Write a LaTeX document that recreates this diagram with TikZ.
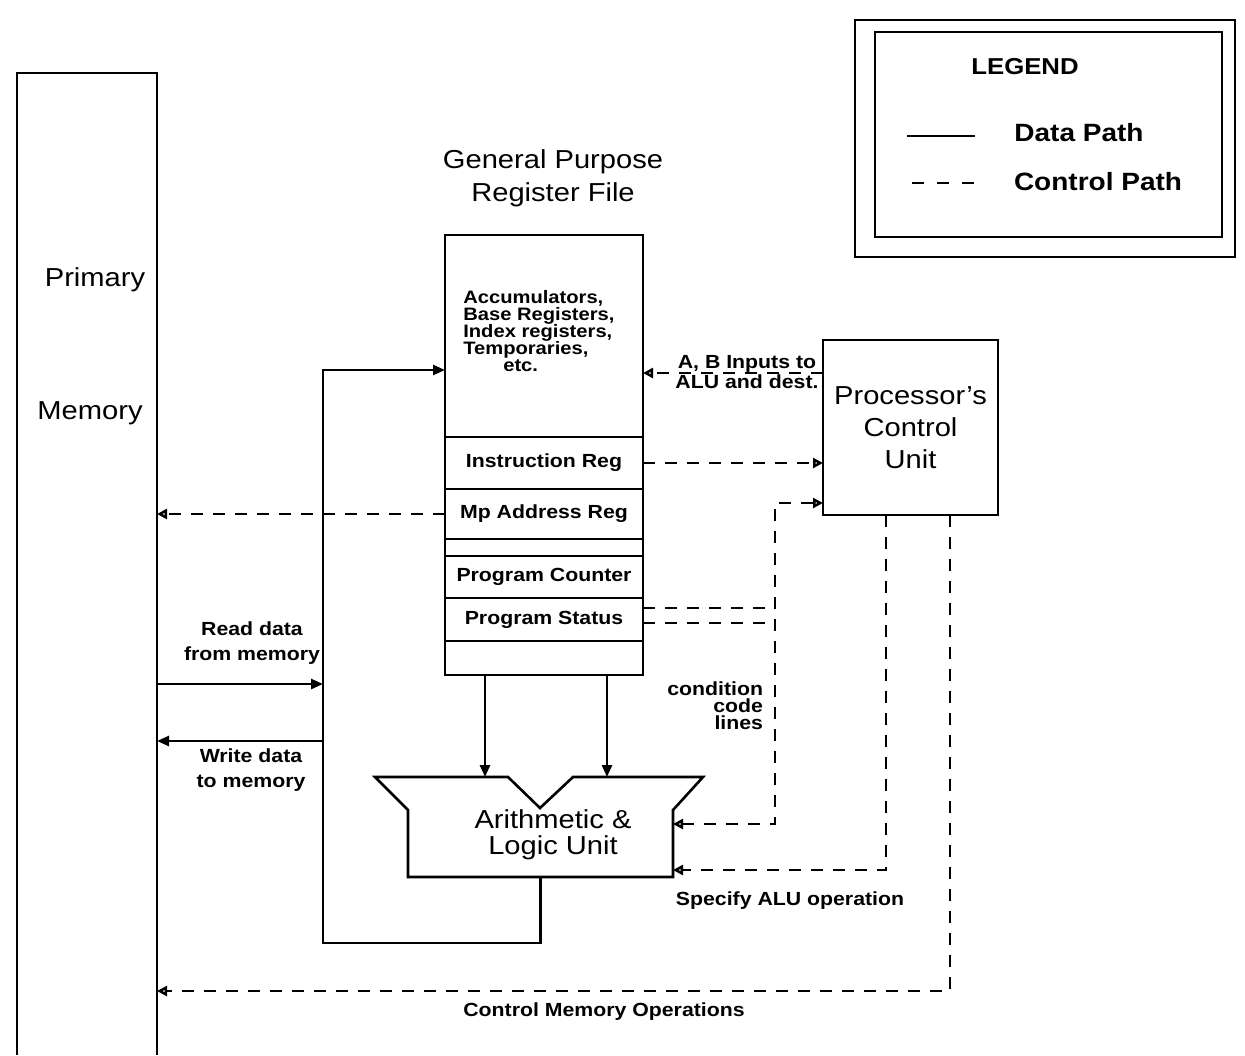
\documentclass[tikz,border=0pt]{standalone}
\usepackage{fontspec}
\setmainfont[FakeStretch=1.12]{Liberation Sans}
\usepackage{tikz}
\usetikzlibrary{arrows.meta,positioning}

\begin{document}
\begin{tikzpicture}[x=0.5pt,y=-0.5pt,line width=1.3pt,
    big/.style={font=\fontsize{13}{16}\selectfont,align=center},
    small/.style={font=\fontsize{9.5}{12.5}\selectfont\bfseries,align=center},
    tight/.style={font=\fontsize{9.5}{8.5}\selectfont\bfseries},
    box/.style={draw,inner sep=0pt,outer sep=0pt},
    reg/.style={box,small,minimum width=99pt,below=0pt of #1},
    data/.style={-{Triangle[length=6pt,width=5pt]}},
    ctrl/.style={dash pattern=on 6pt off 5pt},
    ctrlarr/.style={ctrl,-{Triangle[open,length=5pt,width=5pt]}},
    ctrlboth/.style={ctrl,{Triangle[open,length=5pt,width=5pt]}-{Triangle[open,length=5pt,width=5pt]}}]
  \useasboundingbox (0,0) rectangle (1245,1055);

  \node[box,draw=none,minimum width=70pt,minimum height=491pt] (mem) at (87,564) {};
  \draw (mem.south west) |- (mem.north east) -- (mem.south east);
  \node[big] (prim) at (95,280) {Primary};
  \node[big] (memlbl) at (90,413) {Memory};

  \node[big,font=\fontsize{13}{16.5}\selectfont] (title) at (553,178) {General Purpose\\Register File};
  \node[box,minimum width=99pt,minimum height=101pt] (acc) at (544,336) {};
  \node[reg=acc,minimum height=26pt] (ir) {Instruction Reg};
  \node[reg=ir,minimum height=25pt] (mar) {Mp Address Reg};
  \node[reg=mar,minimum height=8.5pt] (gap) {};
  \node[reg=gap,minimum height=21pt] (pc) {Program Counter};
  \node[reg=pc,minimum height=21.5pt] (ps) {Program Status};
  \node[reg=ps,minimum height=17pt] (bot) {};
  \node[tight,font=\fontsize{9}{8.5}\selectfont\bfseries,align=left,anchor=north west,inner sep=0pt] (acctxt) at (462,289)
    {Accumulators,\\Base Registers,\\Index registers,\\Temporaries,\\\hspace*{20pt}etc.};

  \node[box,draw=none,minimum width=132.5pt,minimum height=33.5pt] (alu) at (540.5,843.5) {};
  \draw (alu.north west) -- ++(-33,-33) -- (508,777) -- (540,808) -- (573,777) -- (703,777)
    -- (alu.north east) |- (alu.south west) -- cycle;
  \node[big,font=\fontsize{13}{13}\selectfont] (alutxt) at (553,835) {Arithmetic \&\\Logic Unit};

  \node[box,big,minimum width=87.5pt,minimum height=87.5pt] (cu) at (910.5,427.5) {Processor's\\Control\\Unit};

  \coordinate (bus) at (323,370);
  \coordinate (rd) at (323,684);
  \coordinate (wr) at (323,741);
  \draw[data] (alu.south) -- ++(0,66) -| (bus) -- (bus -| acc.west);
  \draw[data] (rd -| mem.east) -- (rd);
  \draw[data] (wr) -- (wr -| mem.east);
  \node[small] (rdlbl) at (252,643) {Read data\\from memory};
  \node[small] (wrlbl) at (251,770) {Write data\\to memory};

  \coordinate (inA) at (485,777);
  \coordinate (inB) at (607,777);
  \draw[data] (inA |- bot.south) -- (inA);
  \draw[data] (inB |- bot.south) -- (inB);

  \coordinate (ab) at (823,373);
  \draw[ctrlarr] (ab) -- (ab -| acc.east);
  \node[small,tight] (ablbl) at (747,372) {A, B Inputs to\\ALU and dest.};
  \draw[ctrlarr] (ir.east) -- (ir.east -| cu.west);
  \draw[ctrlarr] (mar.west) -- (mar.west -| mem.east);

  \coordinate (cct) at (775,503);
  \coordinate (ccb) at (775,824);
  \coordinate (ps1) at (775,608);
  \coordinate (ps2) at (775,623);
  \draw[ctrlboth] (ccb -| alu.east) -- (ccb) -- (cct) -- (cct -| cu.west);
  \draw[ctrl] (ps1 -| ps.east) -- (ps1);
  \draw[ctrl] (ps2 -| ps.east) -- (ps2);
  \node[tight,align=right,anchor=east] (cclbl) at (771,706) {condition\\code\\lines};

  \coordinate (spec) at (886,870);
  \draw[ctrlarr] (spec |- cu.south) -- (spec) -- (spec -| alu.east);
  \node[small] (speclbl) at (790,901) {Specify ALU operation};
  \coordinate (cmo) at (950,991);
  \draw[ctrlarr] (cmo |- cu.south) -- (cmo) -- (cmo -| mem.east);
  \node[small] (cmolbl) at (604,1012) {Control Memory Operations};

  \node[box,minimum width=190pt,minimum height=118.5pt] (legout) at (1045,138.5) {};
  \node[box,minimum width=173.5pt,minimum height=102.5pt] (legin) at (1048.5,134.5) {};
  \node[big,font=\fontsize{11.5}{14}\selectfont\bfseries] (legttl) at (1025,67) {LEGEND};
  \node[big,font=\fontsize{12.5}{14}\selectfont\bfseries] (dpath) at (1079,133) {Data Path};
  \node[big,font=\fontsize{12.5}{14}\selectfont\bfseries] (cpath) at (1098,182) {Control Path};
  \coordinate (dp1) at (907,136);
  \coordinate (dp2) at (975,136);
  \coordinate (cp1) at (912,183);
  \coordinate (cp2) at (975,183);
  \draw (dp1) -- (dp2);
  \draw[dash pattern=on 6pt off 6.5pt] (cp1) -- (cp2);
\end{tikzpicture}
\end{document}
